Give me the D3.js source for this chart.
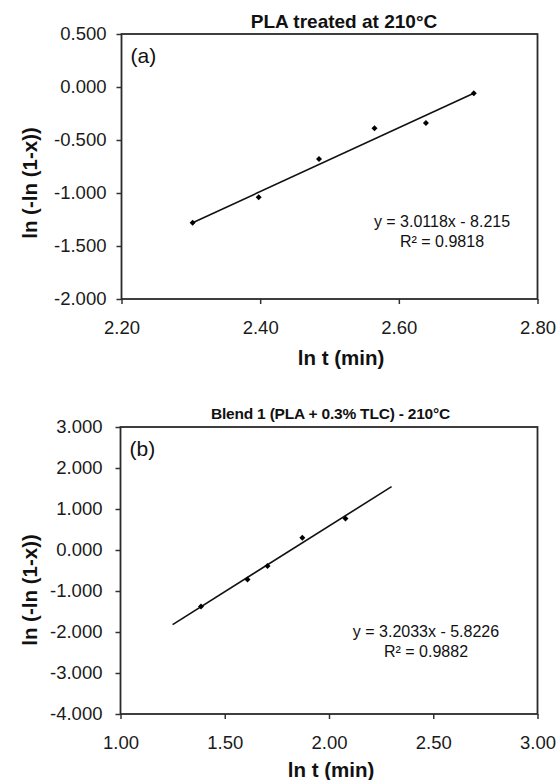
<!DOCTYPE html>
<html>
<head>
<meta charset="utf-8">
<script src="https://cdn.jsdelivr.net/npm/d3@7.9.0/dist/d3.min.js"></script>
<style>
  html, body { margin: 0; padding: 0; background: #fff; }
  svg { display: block; font-family: "Liberation Sans", Arial, sans-serif; }
  .tick text { font-size: 18.5px; fill: #1a1a1a; }
  .tick line { stroke: #333; stroke-width: 1.5; }
</style>
</head>
<body>
<svg id="chart" width="558" height="780"></svg>
<script>
// Panel (a): PLA treated at 210°C
const timesA = [2.3026, 2.3979, 2.4849, 2.5649, 2.6391, 2.7081];
const valuesA = [-1.28, -1.04, -0.68, -0.39, -0.34, -0.06];
const fitA = [3.0118, -8.215];            // slope, intercept
const fitRangeA = [2.3026, 2.7081];
const xTicksA = [2.2, 2.4, 2.6, 2.8];
const yTicksA = [0.5, 0, -0.5, -1, -1.5, -2];

// Panel (b): Blend 1 (PLA + 0.3% TLC) - 210°C
const timesB = [1.386, 1.609, 1.705, 1.872, 2.079];
const valuesB = [-1.38, -0.72, -0.39, 0.30, 0.77];
const fitB = [3.2033, -5.8226];
const fitRangeB = [1.25, 2.30];
const xTicksB = [1, 1.5, 2, 2.5, 3];
const yTicksB = [3, 2, 1, 0, -1, -2, -3, -4];

const svg = d3.select('#chart');

// Excel style numbers: plain hyphen for negatives
const fmt3 = d => d.toFixed(3);
const fmt2 = d => d.toFixed(2);

// Draw one panel of the figure
function drawPanel(cfg) {
  const x = d3.scaleLinear().domain(cfg.xDomain).range([cfg.left, cfg.right]);
  const y = d3.scaleLinear().domain(cfg.yDomain).range([cfg.bottom, cfg.top]);
  const g = svg.append('g');

  // y axis ticks
  g.append('g')
    .attr('transform', `translate(${cfg.left},0)`)
    .call(d3.axisLeft(y).tickValues(cfg.yTicks).tickFormat(fmt3)
      .tickSize(5).tickSizeOuter(0).tickPadding(cfg.yPad))
    .call(a => a.select('.domain').remove());

  // x axis ticks
  g.append('g')
    .attr('transform', `translate(0,${cfg.bottom})`)
    .call(d3.axisBottom(x).tickValues(cfg.xTicks).tickFormat(fmt2)
      .tickSize(5).tickSizeOuter(0).tickPadding(17))
    .call(a => a.select('.domain').remove());

  // plot frame
  g.append('rect')
    .attr('x', cfg.left).attr('y', cfg.top)
    .attr('width', cfg.right - cfg.left).attr('height', cfg.bottom - cfg.top)
    .attr('fill', 'none').attr('stroke', '#2a2a2a').attr('stroke-width', 1.8);

  // trendline
  const [m, b] = cfg.fit;
  g.append('line')
    .attr('x1', x(cfg.fitRange[0])).attr('y1', y(m * cfg.fitRange[0] + b))
    .attr('x2', x(cfg.fitRange[1])).attr('y2', y(m * cfg.fitRange[1] + b))
    .attr('stroke', '#111').attr('stroke-width', 1.6);

  // diamond markers
  g.selectAll('path.pt')
    .data(cfg.times.map((t, i) => [t, cfg.values[i]]))
    .join('path')
    .attr('class', 'pt')
    .attr('d', d3.symbol(d3.symbolSquare, 18)())
    .attr('transform', d => `translate(${x(d[0])},${y(d[1])}) rotate(45)`)
    .attr('fill', '#000');

  // panel letter
  g.append('text')
    .attr('x', cfg.left + 9).attr('y', cfg.top + 29)
    .attr('font-size', 21).attr('fill', '#111')
    .text(cfg.letter);

  // title
  g.append('text')
    .attr('x', cfg.titleX).attr('y', cfg.titleY)
    .attr('text-anchor', 'middle').attr('font-weight', 'bold')
    .attr('font-size', cfg.titleSize).attr('letter-spacing', cfg.titleSpacing)
    .attr('fill', '#111')
    .text(cfg.title);

  // axis titles
  g.append('text')
    .attr('x', cfg.xLabelX).attr('y', cfg.xLabelY)
    .attr('text-anchor', 'middle').attr('font-weight', 'bold')
    .attr('font-size', 20.5).attr('fill', '#111')
    .text('ln t (min)');

  g.append('text')
    .attr('transform', `translate(36.5,${cfg.yLabelY}) rotate(-90)`)
    .attr('text-anchor', 'middle').attr('font-weight', 'bold')
    .attr('font-size', 20.5).attr('fill', '#111')
    .text('ln (-ln (1-x))');

  // equation box
  const eq = g.append('text')
    .attr('text-anchor', 'middle').attr('font-size', 16).attr('fill', '#111');
  eq.append('tspan').attr('x', cfg.eqX).attr('y', cfg.eqY).text(cfg.eqLines[0]);
  eq.append('tspan').attr('x', cfg.eqX).attr('y', cfg.eqY + 20).text(cfg.eqLines[1]);
}

drawPanel({
  left: 121.5, right: 537.5, top: 34, bottom: 299,
  xDomain: [2.2, 2.8], yDomain: [-2, 0.5],
  xTicks: xTicksA, yTicks: yTicksA, yPad: 10,
  times: timesA, values: valuesA, fit: fitA, fitRange: fitRangeA,
  letter: '(a)',
  title: 'PLA treated at 210°C', titleX: 344, titleY: 28, titleSize: 19, titleSpacing: 0,
  xLabelX: 341, xLabelY: 365, yLabelY: 183,
  eqX: 442, eqY: 226.5,
  eqLines: ['y = 3.0118x - 8.215', 'R² = 0.9818']
});

drawPanel({
  left: 120.5, right: 537.5, top: 427, bottom: 714,
  xDomain: [1, 3], yDomain: [-4, 3],
  xTicks: xTicksB, yTicks: yTicksB, yPad: 13,
  times: timesB, values: valuesB, fit: fitB, fitRange: fitRangeB,
  letter: '(b)',
  title: 'Blend 1 (PLA + 0.3% TLC) - 210°C', titleX: 330.5, titleY: 419, titleSize: 15.5, titleSpacing: -0.2,
  xLabelX: 331, xLabelY: 777, yLabelY: 590,
  eqX: 426, eqY: 636.5,
  eqLines: ['y = 3.2033x - 5.8226', 'R² = 0.9882']
});
</script>
</body>
</html>
